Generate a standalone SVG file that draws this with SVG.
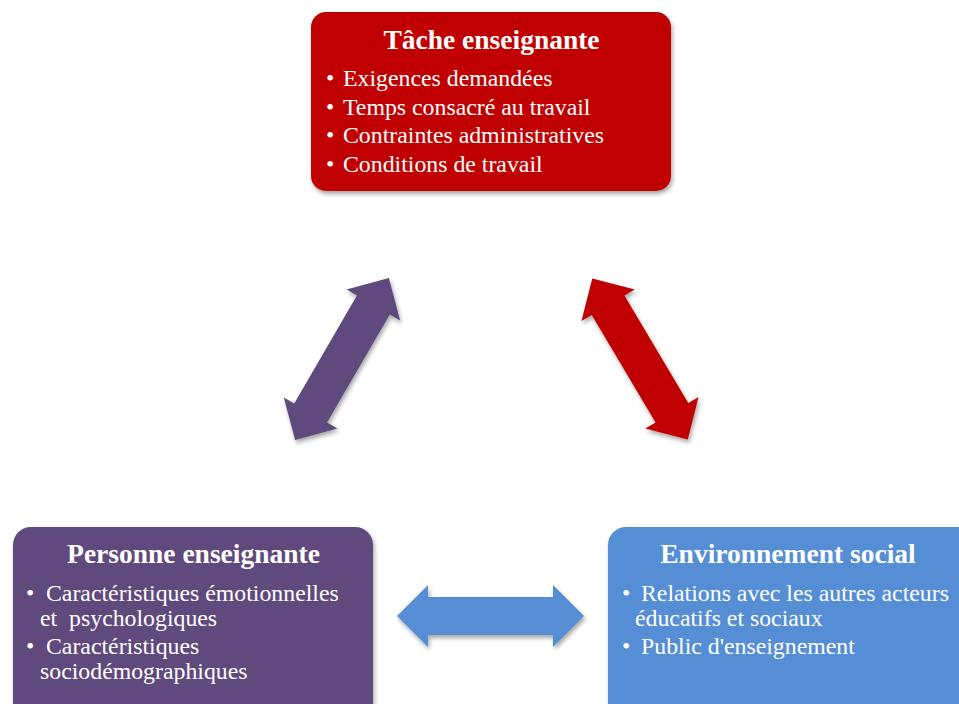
<svg xmlns="http://www.w3.org/2000/svg" width="959" height="704" viewBox="0 0 959 704">
<defs>
<filter id="sh" x="-20%" y="-20%" width="140%" height="140%">
<feDropShadow dx="1.5" dy="3" stdDeviation="2.2" flood-color="#000" flood-opacity="0.35"/>
</filter>
<path id="arr" d="M-93.5,0 L-62.5,-31 L-62.5,-19 L62.5,-19 L62.5,-31 L93.5,0 L62.5,31 L62.5,19 L-62.5,19 L-62.5,31 Z"/>
</defs>
<style>
.t{font-family:"Liberation Serif","Times New Roman",serif;fill:#fff}
.h{font-size:27.5px;font-weight:bold;text-anchor:middle}
.b{font-size:23.8px}
</style>
<rect width="959" height="704" fill="#fff"/>
<g id="connectors">
<g filter="url(#sh)"><use href="#arr" transform="translate(490.5,616)" fill="#558ED5"/></g>
<g filter="url(#sh)"><use href="#arr" transform="translate(342,359) rotate(-59.9)" fill="#604A7B"/></g>
<g filter="url(#sh)"><use href="#arr" transform="translate(640,359) rotate(59.3)" fill="#C00000"/></g>
</g>
<g id="tache">
<rect x="311" y="12" width="360" height="179" rx="15" fill="#C00000" filter="url(#sh)"/>
<text class="t h" x="491.5" y="49">Tâche enseignante</text>
<text class="t b" x="326" y="86">•</text><text class="t b" x="343" y="86">Exigences demandées</text>
<text class="t b" x="326" y="115">•</text><text class="t b" x="343" y="115">Temps consacré au travail</text>
<text class="t b" x="326" y="143">•</text><text class="t b" x="343" y="143">Contraintes administratives</text>
<text class="t b" x="326" y="172">•</text><text class="t b" x="343" y="172">Conditions de travail</text>
</g>
<g id="personne">
<rect x="13" y="527" width="360" height="200" rx="18" fill="#604A7B" filter="url(#sh)"/>
<text class="t h" x="193.5" y="563">Personne enseignante</text>
<text class="t b" x="26" y="601">•</text><text class="t b" x="46" y="601">Caractéristiques émotionnelles</text>
<text class="t b" x="40" y="626" xml:space="preserve">et  psychologiques</text>
<text class="t b" x="26" y="654">•</text><text class="t b" x="46" y="654">Caractéristiques</text>
<text class="t b" x="40" y="679">sociodémographiques</text>
</g>
<g id="environnement">
<rect x="608" y="527" width="380" height="200" rx="18" fill="#558ED5" filter="url(#sh)"/>
<text class="t h" x="788" y="563">Environnement social</text>
<text class="t b" x="622" y="601">•</text><text class="t b" x="641" y="601">Relations avec les autres acteurs</text>
<text class="t b" x="635" y="626">éducatifs et sociaux</text>
<text class="t b" x="622" y="654">•</text><text class="t b" x="641" y="654">Public d'enseignement</text>
</g>
</svg>
